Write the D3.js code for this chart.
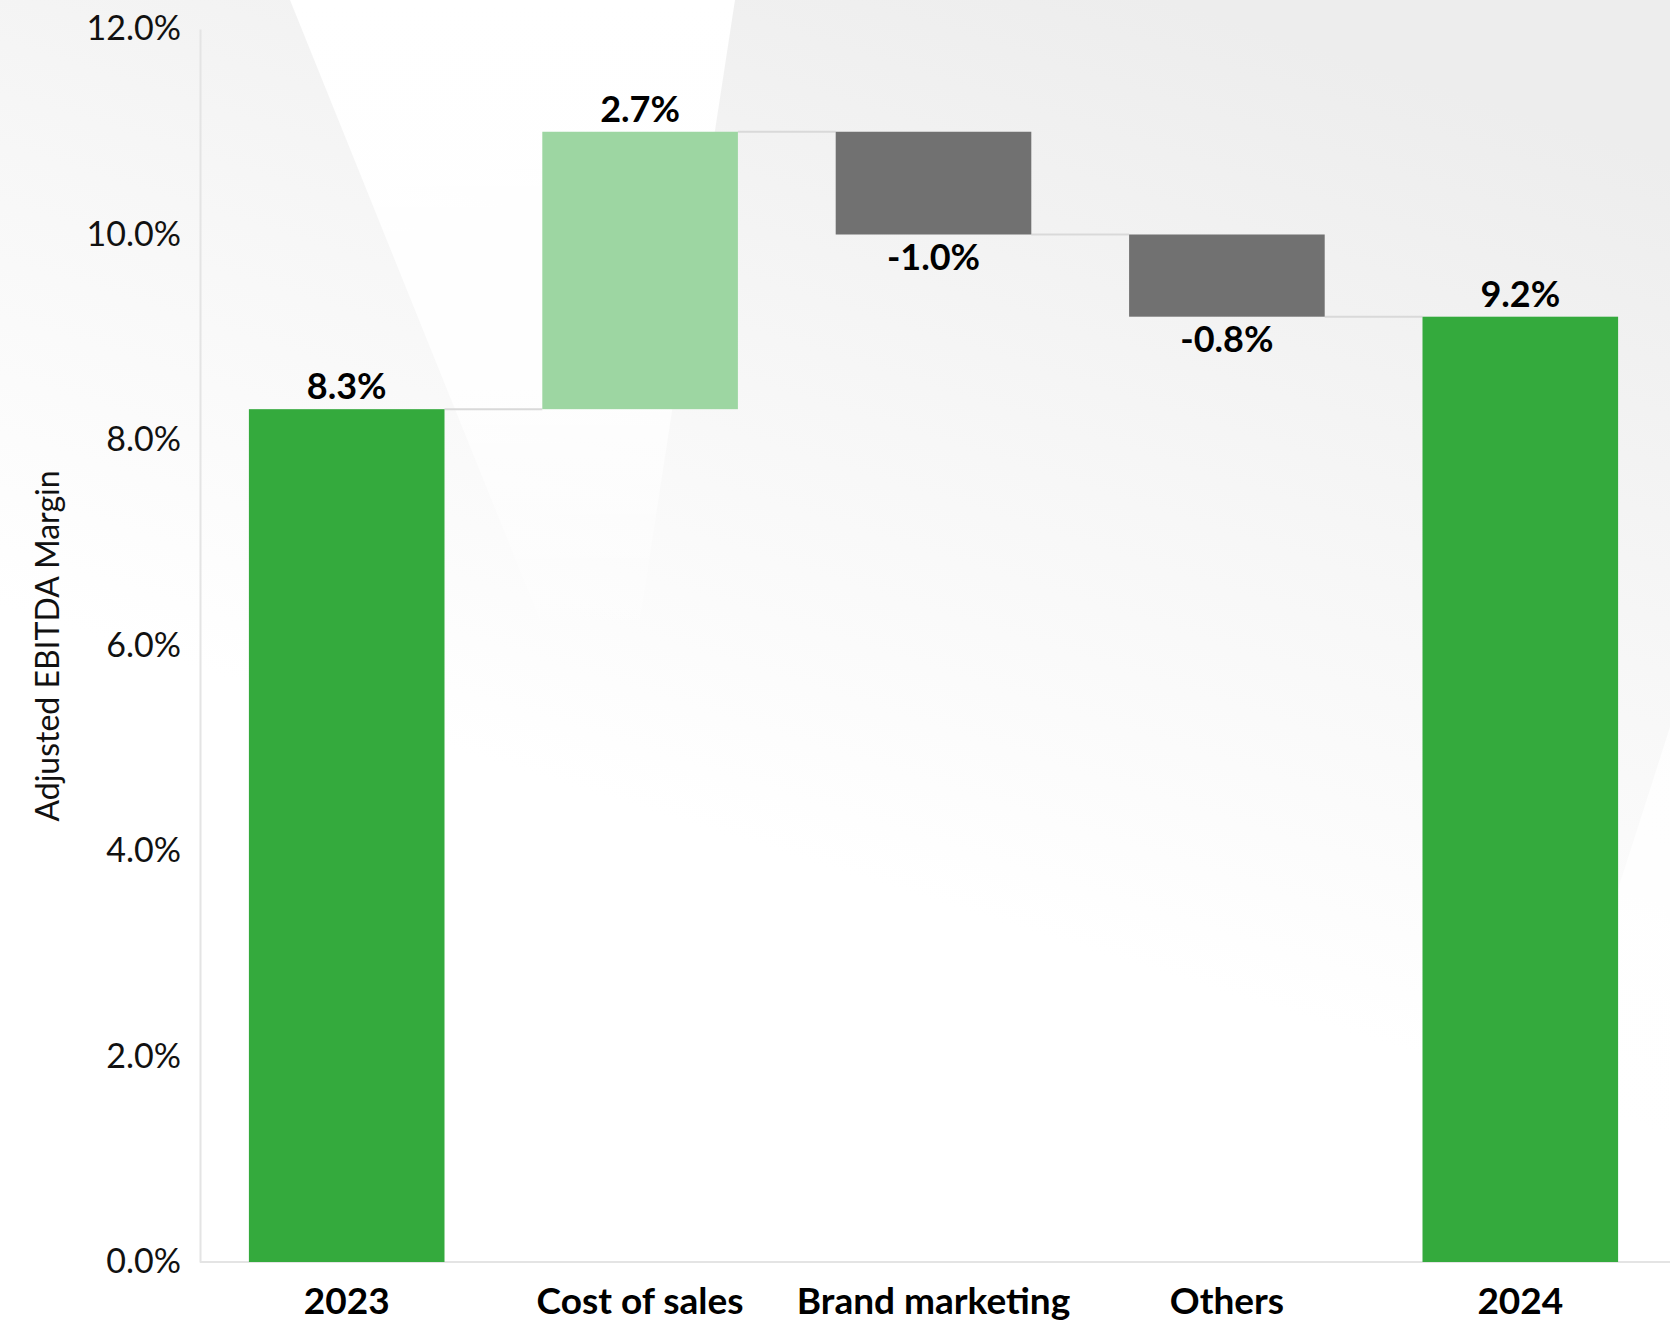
<!DOCTYPE html>
<html lang="en">
<head>
    <meta charset="UTF-8">
    <title>Adjusted EBITDA Margin bridge</title>
    <script src="https://d3js.org/d3.v7.min.js"></script>
    <style>
      body { margin: 0; background: #fff; }
      svg { display: block; font-family: Lato, "Noto Sans", sans-serif; }
    </style>
</head>
<body>

<svg width="1670" height="1320"></svg>

<script>
// chart data
const categories = ['2023', 'Cost of sales', 'Brand marketing', 'Others', '2024'];
const values = [8.3, 2.7, -1.0, -0.8, 9.2];
const barTypes = ['total', 'increase', 'decrease', 'decrease', 'total'];
const valueLabels = ['8.3%', '2.7%', '-1.0%', '-0.8%', '9.2%'];
const yTicks = [0, 2, 4, 6, 8, 10, 12];
const yTitle = 'Adjusted EBITDA Margin';

const colors = { total: '#34aa3d', increase: '#9dd6a2', decrease: '#717171' };

function drawBackground(svg) {
    const defs = svg.append('defs');

    const g1 = defs.append('linearGradient').attr('id', 'bgGray')
        .attr('x1', 0.7).attr('y1', 0).attr('x2', 0.4).attr('y2', 0.75);
    g1.append('stop').attr('offset', 0).attr('stop-color', '#ededed');
    g1.append('stop').attr('offset', 0.45).attr('stop-color', '#f7f7f7');
    g1.append('stop').attr('offset', 0.85).attr('stop-color', '#ffffff');

    const g2 = defs.append('linearGradient').attr('id', 'wedge')
        .attr('x1', 0).attr('y1', 0).attr('x2', 0).attr('y2', 1);
    g2.append('stop').attr('offset', 0).attr('stop-color', '#fff').attr('stop-opacity', 1);
    g2.append('stop').attr('offset', 0.6).attr('stop-color', '#fff').attr('stop-opacity', 0.9);
    g2.append('stop').attr('offset', 1).attr('stop-color', '#fff').attr('stop-opacity', 0.2);

    const g3 = defs.append('linearGradient').attr('id', 'corner')
        .attr('x1', 1).attr('y1', 0).attr('x2', 0).attr('y2', 1);
    g3.append('stop').attr('offset', 0).attr('stop-color', '#fff').attr('stop-opacity', 0.8);
    g3.append('stop').attr('offset', 1).attr('stop-color', '#fff').attr('stop-opacity', 1);

    svg.append('rect').attr('width', 1670).attr('height', 1320).attr('fill', 'url(#bgGray)');

    // white wedge at the top
    svg.append('polygon')
        .attr('points', '290,0 735,0 640,620 540,620')
        .attr('fill', 'url(#wedge)');

    // white area bottom right
    svg.append('polygon')
        .attr('points', '1670,727 1670,1320 1480,1320')
        .attr('fill', 'url(#corner)');
}

function createWaterfall() {
    const svg = d3.select('svg');
    drawBackground(svg);

    const x = d3.scaleBand()
        .domain(categories)
        .range([200, 1667])
        .paddingInner(1 / 3)
        .paddingOuter(1 / 6);

    const y = d3.scaleLinear()
        .domain([0, 12])
        .range([1262, 29]);

    // running totals
    let run = 0;
    const bars = categories.map((c, i) => {
        let start, end;
        if (barTypes[i] === 'total') {
            start = 0; end = values[i]; run = values[i];
        } else {
            start = run; end = run + values[i]; run = end;
        }
        return { cat: c, start, end, type: barTypes[i], label: valueLabels[i] };
    });

    // connectors
    svg.append('g').selectAll('line')
        .data(bars.slice(0, -1))
        .join('line')
        .attr('x1', d => x(d.cat) + x.bandwidth())
        .attr('x2', (d, i) => x(bars[i + 1].cat))
        .attr('y1', d => y(d.end))
        .attr('y2', d => y(d.end))
        .attr('stroke', '#d9d9d9')
        .attr('stroke-width', 2);

    // axes
    const yAxis = svg.append('g')
        .attr('transform', 'translate(200,0)')
        .call(d3.axisLeft(y).tickValues(yTicks).tickSize(0).tickPadding(19)
            .tickFormat(d => d.toFixed(1) + '%'));
    yAxis.select('.domain').attr('stroke', '#e4e4e4').attr('stroke-width', 2);
    yAxis.selectAll('text')
        .attr('font-size', 34)
        .attr('font-family', 'Lato, sans-serif')
        .attr('fill', '#111');

    const xAxis = svg.append('g')
        .attr('transform', 'translate(0,1262)')
        .call(d3.axisBottom(x).tickSize(0).tickPadding(26));
    xAxis.select('.domain').attr('d', 'M200,0H1670').attr('stroke', '#e4e4e4').attr('stroke-width', 2);
    xAxis.selectAll('text')
        .attr('font-size', 37)
        .attr('font-weight', 'bold')
        .attr('font-family', 'Lato, sans-serif')
        .attr('fill', '#000');

    // bars
    svg.append('g').selectAll('rect')
        .data(bars)
        .join('rect')
        .attr('x', d => x(d.cat))
        .attr('width', x.bandwidth())
        .attr('y', d => y(Math.max(d.start, d.end)))
        .attr('height', d => Math.abs(y(d.start) - y(d.end)))
        .attr('fill', d => colors[d.type]);

    // value labels
    svg.append('g').selectAll('text')
        .data(bars)
        .join('text')
        .attr('x', d => x(d.cat) + x.bandwidth() / 2)
        .attr('y', d => d.type === 'decrease'
            ? y(Math.min(d.start, d.end)) + 35
            : y(Math.max(d.start, d.end)) - 10)
        .attr('text-anchor', 'middle')
        .attr('font-size', 36)
        .attr('font-weight', 'bold')
        .attr('fill', '#000')
        .text(d => d.label);

    // y axis title
    svg.append('text')
        .attr('transform', 'translate(59,646) rotate(-90)')
        .attr('text-anchor', 'middle')
        .attr('font-size', 32)
        .attr('fill', '#111')
        .text(yTitle);
}

createWaterfall();
</script>
</body>
</html>
